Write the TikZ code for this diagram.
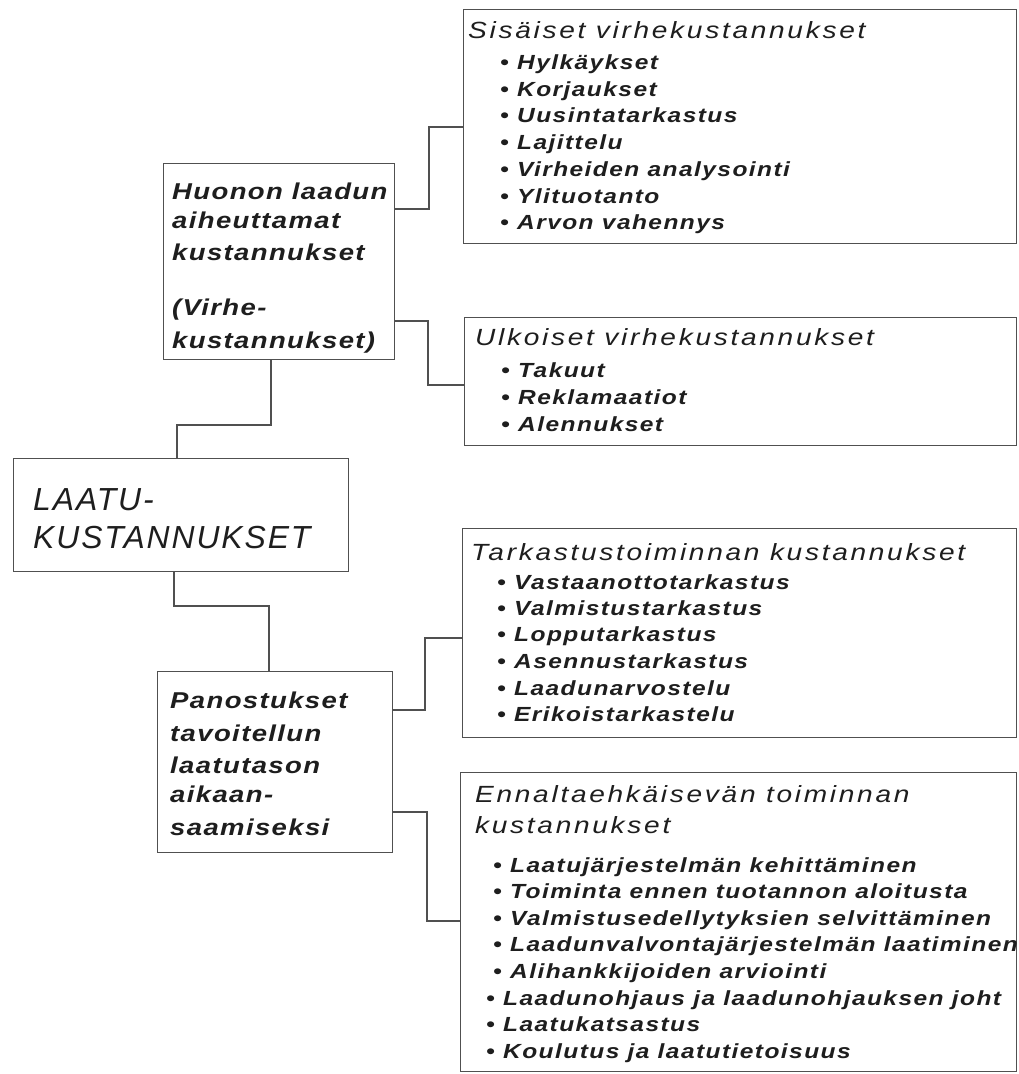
\documentclass[tikz,border=0pt]{standalone}
\usepackage{fontspec}
\newfontfamily\ttlfont[FakeStretch=1.2,LetterSpace=11.5]{Liberation Sans}
\newfontfamily\itmfont[FakeStretch=1.2,LetterSpace=7]{Liberation Sans}
\newfontfamily\midfont[FakeStretch=1.2,LetterSpace=6]{Liberation Sans}
\newfontfamily\bigfont[LetterSpace=6]{Liberation Sans}
\definecolor{ink}{HTML}{1E1E1E}
\definecolor{rulec}{HTML}{505050}
\newcommand{\bl}{\makebox[17bp][l]{\textbullet}}
\tikzset{
  box/.style={draw=rulec, line width=1.3bp, rectangle, inner sep=0pt, anchor=north west},
  ttl/.style={anchor=base west, inner sep=0pt, text=ink, font=\ttlfont\itshape\fontsize{23.5}{27}\selectfont},
  itm/.style={anchor=base west, inner sep=0pt, text=ink, font=\itmfont\bfseries\itshape\fontsize{20.5}{24}\selectfont},
  midt/.style={anchor=base west, inner sep=0pt, text=ink, font=\midfont\bfseries\itshape\fontsize{23}{27}\selectfont},
  bigt/.style={anchor=base west, inner sep=0pt, text=ink, font=\bigfont\itshape\fontsize{32}{38}\selectfont},
  wire/.style={draw=rulec, line width=1.3bp}
}
\begin{document}
\begin{tikzpicture}[x=1bp,y=-1bp]
\clip (0,0) rectangle (1019,1074);
\fill[white] (0,0) rectangle (1019,1074);

% boxes
\node[box, minimum width=553bp, minimum height=234bp] (sis) at (463,9) {};
\node[box, minimum width=552bp, minimum height=128bp] (ulk) at (464,317) {};
\node[box, minimum width=231bp, minimum height=196bp] (huo) at (163,163) {};
\node[box, minimum width=335bp, minimum height=113bp] (laatu) at (13,458) {};
\node[box, minimum width=554bp, minimum height=209bp] (tar) at (462,528) {};
\node[box, minimum width=235bp, minimum height=181bp] (pan) at (157,671) {};
\node[box, minimum width=556bp, minimum height=299bp] (enn) at (460,772) {};

% Sisäiset
\node[ttl] (sis0) at (468,38) {Sisäiset virhekustannukset};
\node[itm] (sis1) at (500,69) {\bl Hylkäykset};
\node[itm] (sis2) at (500,96) {\bl Korjaukset};
\node[itm] (sis3) at (500,122) {\bl Uusintatarkastus};
\node[itm] (sis4) at (500,149) {\bl Lajittelu};
\node[itm] (sis5) at (500,176) {\bl Virheiden analysointi};
\node[itm] (sis6) at (500,203) {\bl Ylituotanto};
\node[itm] (sis7) at (500,229) {\bl Arvon vahennys};

% Ulkoiset
\node[ttl] (ulk0) at (475,345) {Ulkoiset virhekustannukset};
\node[itm] (ulk1) at (501,377) {\bl Takuut};
\node[itm] (ulk2) at (501,404) {\bl Reklamaatiot};
\node[itm] (ulk3) at (501,431) {\bl Alennukset};

% Huonon
\node[midt] (huo1) at (172,199) {Huonon laadun};
\node[midt] (huo2) at (172,228) {aiheuttamat};
\node[midt] (huo3) at (172,260) {kustannukset};
\node[midt] (huo4) at (172,315) {(Virhe-};
\node[midt] (huo5) at (172,348) {kustannukset)};

% LAATU
\node[bigt] (laa1) at (33,510) {LAATU-};
\node[bigt] (laa2) at (33,548) {KUSTANNUKSET};

% Tarkastus
\node[ttl] (tar0) at (471,560) {Tarkastustoiminnan kustannukset};
\node[itm] (tar1) at (497,589) {\bl Vastaanottotarkastus};
\node[itm] (tar2) at (497,615) {\bl Valmistustarkastus};
\node[itm] (tar3) at (497,641) {\bl Lopputarkastus};
\node[itm] (tar4) at (497,668) {\bl Asennustarkastus};
\node[itm] (tar5) at (497,695) {\bl Laadunarvostelu};
\node[itm] (tar6) at (497,721) {\bl Erikoistarkastelu};

% Panostukset
\node[midt] (pan1) at (170,708) {Panostukset};
\node[midt] (pan2) at (170,741) {tavoitellun};
\node[midt] (pan3) at (170,773) {laatutason};
\node[midt] (pan4) at (170,802) {aikaan-};
\node[midt] (pan5) at (170,835) {saamiseksi};

% Ennalta
\node[ttl] (enn0) at (475,802) {Ennaltaehkäisevän toiminnan};
\node[ttl] (enn00) at (475,833) {kustannukset};
\node[itm] (enn1) at (493,872) {\bl Laatujärjestelmän kehittäminen};
\node[itm] (enn2) at (493,898) {\bl Toiminta ennen tuotannon aloitusta};
\node[itm] (enn3) at (493,925) {\bl Valmistusedellytyksien selvittäminen};
\node[itm] (enn4) at (493,951) {\bl Laadunvalvontajärjestelmän laatiminen};
\node[itm] (enn5) at (493,978) {\bl Alihankkijoiden arviointi};
\node[itm] (enn6) at (486,1005) {\bl Laadunohjaus ja laadunohjauksen joht};
\node[itm] (enn7) at (486,1031) {\bl Laatukatsastus};
\node[itm] (enn8) at (486,1058) {\bl Koulutus ja laatutietoisuus};

% connectors
\draw[wire] (huo.east |- 0,209) -| (429,127) -- (sis.west |- 0,127);
\draw[wire] (huo.east |- 0,321) -| (428,385) -- (ulk.west |- 0,385);
\draw[wire] (huo.south -| 271,0) |- (177,425) -- (laatu.north -| 177,0);
\draw[wire] (laatu.south -| 174,0) |- (269,606) -- (pan.north -| 269,0);
\draw[wire] (pan.east |- 0,710) -| (425,638) -- (tar.west |- 0,638);
\draw[wire] (pan.east |- 0,812) -| (427,921) -- (enn.west |- 0,921);
\end{tikzpicture}
\end{document}
